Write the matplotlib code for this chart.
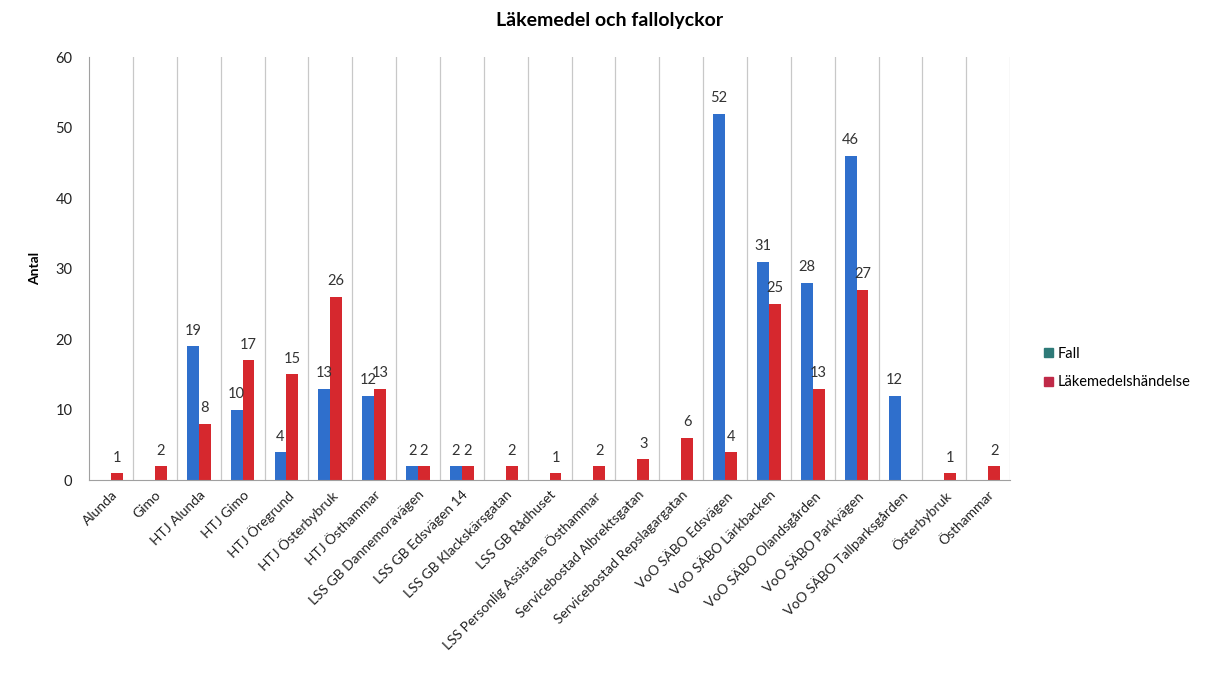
import numpy as np
import matplotlib.pyplot as plt
from matplotlib.patches import Patch

plt.rcParams['font.family'] = ['Lato', 'DejaVu Sans']

kategorier = ['Alunda', 'Gimo', 'HTJ Alunda', 'HTJ Gimo', 'HTJ Öregrund',
              'HTJ Österbybruk', 'HTJ Östhammar', 'LSS GB Dannemoravägen',
              'LSS GB Edsvägen 14', 'LSS GB Klackskärsgatan', 'LSS GB Rådhuset',
              'LSS Personlig Assistans Östhammar', 'Servicebostad Albrektsgatan',
              'Servicebostad Repslagargatan', 'VoO SÄBO Edsvägen',
              'VoO SÄBO Lärkbacken', 'VoO SÄBO Olandsgården', 'VoO SÄBO Parkvägen',
              'VoO SÄBO Tallparksgården', 'Österbybruk', 'Östhammar']
fall = [0, 0, 19, 10, 4, 13, 12, 2, 2, 0, 0, 0, 0, 0, 52, 31, 28, 46, 12, 0, 0]
lakemedel = [1, 2, 8, 17, 15, 26, 13, 2, 2, 2, 1, 2, 3, 6, 4, 25, 13, 27, 0, 1, 2]

fig = plt.figure(figsize=(12.2, 6.88), dpi=100)
ax = fig.add_axes([0.073, 0.302, 0.755, 0.615])

x = np.arange(len(kategorier))
w = 0.27
b1 = ax.bar(x - w/2, fall, w, color='#2f6fcc')
b2 = ax.bar(x + w/2, lakemedel, w, color='#d6282e')

# etiketter, inga för nollor
for bars, vals in [(b1, fall), (b2, lakemedel)]:
    for b, v in zip(bars, vals):
        if v > 0:
            ax.text(b.get_x() + b.get_width()/2, v + 1.2, str(v),
                    ha='center', va='bottom', fontsize=10.5, color='#333333')

ax.set_xlim(-0.5, len(kategorier) - 0.5)
ax.set_ylim(0, 60)
ax.set_yticks(range(0, 61, 10))
ax.set_xticks(x)
ax.set_xticklabels(kategorier, rotation=45, ha='right', rotation_mode='anchor',
                   fontsize=10, color='#222222')
ax.tick_params(axis='both', length=0)
ax.tick_params(axis='y', labelsize=10.5, colors='#222222', pad=12)
ax.tick_params(axis='x', pad=6)

# vertikala linjer mellan kategorierna
for g in np.arange(0.5, len(kategorier), 1.0):
    ax.axvline(g, color='#c8c8c8', lw=0.9, zorder=0)

for s in ['top', 'right']:
    ax.spines[s].set_visible(False)
ax.spines['left'].set_color('#a0a0a0')
ax.spines['bottom'].set_color('#a0a0a0')

ax.set_ylabel('Antal', fontsize=10, fontweight='bold', labelpad=10)
fig.text(0.5, 0.97, 'Läkemedel och fallolyckor', ha='center', va='center',
         fontsize=14, fontweight='bold')

handles = [Patch(color='#2e7a78', label='Fall'),
           Patch(color='#c02a48', label='Läkemedelshändelse')]
fig.legend(handles=handles, loc='center left', bbox_to_anchor=(0.845, 0.465),
           frameon=False, fontsize=10.5, handlelength=0.6, handleheight=0.6,
           handletextpad=0.3, labelspacing=1.0)

plt.savefig('out.png', dpi=100)
